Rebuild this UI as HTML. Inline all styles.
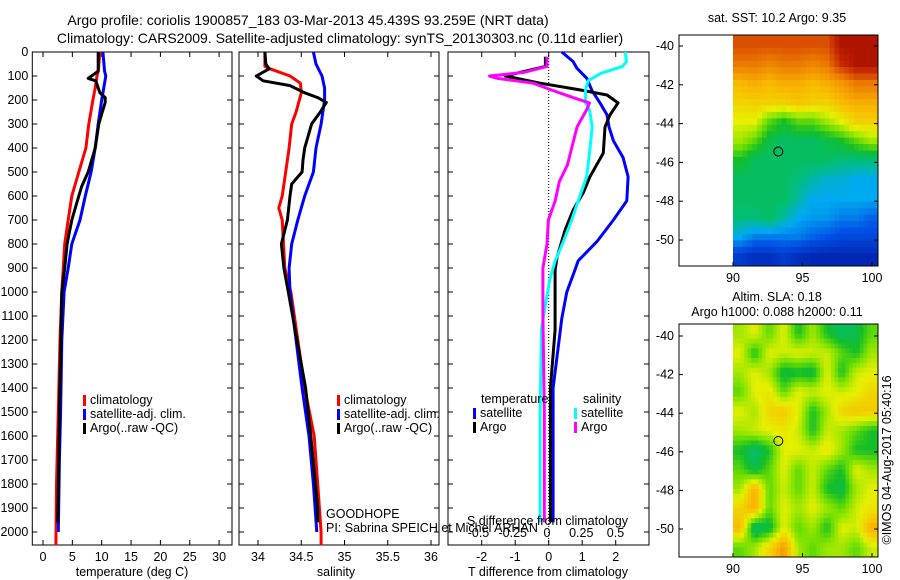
<!DOCTYPE html>
<html><head><meta charset="utf-8">
<style>
html,body{margin:0;padding:0;background:#fff;}
svg{display:block;font-family:"Liberation Sans",sans-serif;}
</style></head>
<body>
<svg id="fig" width="900" height="580" viewBox="0 0 900 580" xmlns="http://www.w3.org/2000/svg">
<text x="308" y="25" font-size="14" text-anchor="middle">Argo profile: coriolis 1900857_183 03-Mar-2013 45.439S 93.259E (NRT data)</text>
<text x="340" y="43" font-size="14" text-anchor="middle">Climatology: CARS2009. Satellite-adjusted climatology: synTS_20130303.nc (0.11d earlier)</text>
<g id="g"></g>
</svg>
<script>
// ---------- data ----------
const tDepth = [0,80,100,150,200,300,400,500,600,700,800,1000,1200,1500,1800,2055];
const tClim  = [9.7,9.4,9.2,8.9,8.5,7.8,7.3,6.1,4.9,4.3,3.7,3.2,2.9,2.6,2.3,2.2];
const tSatDepth = [0,80,100,200,300,400,500,600,700,800,900,1000,1200,1500,1700,2000];
const tSat = [10.2,10.5,10.7,10.0,9.4,8.9,8.2,7.2,6.3,4.9,4.3,3.6,3.2,3.0,2.8,2.6];
const argoDepth = [0,80,110,120,170,190,210,250,300,400,450,500,560,600,700,800,900,1000,1500,1960];
const tArgo = [9.4,9.4,7.7,9.0,9.7,10.6,10.6,10.1,9.5,8.9,8.3,7.7,6.6,6.1,4.9,4.1,3.7,3.2,2.8,2.5];
const sClimDepth = [0,60,70,100,130,170,250,300,400,500,600,650,700,900,1000,1400,1600,1800,2000,2055];
const sClim = [34.08,34.08,34.14,34.37,34.49,34.5,34.44,34.39,34.36,34.32,34.28,34.24,34.28,34.31,34.38,34.54,34.65,34.69,34.73,34.73];
const sSatDepth = [0,50,100,150,200,300,400,500,600,700,800,900,1000,1400,1600,1800,2000];
const sSat = [34.64,34.67,34.74,34.77,34.77,34.73,34.67,34.64,34.54,34.46,34.39,34.36,34.37,34.51,34.59,34.64,34.68];
const sArgoDepth = [0,50,70,100,120,140,170,190,210,250,300,400,450,500,550,600,700,800,900,1000,1400,1600,1900,1960];
const sArgo = [34.08,34.09,34.13,33.98,34.06,34.37,34.54,34.69,34.79,34.72,34.62,34.54,34.52,34.51,34.39,34.37,34.34,34.27,34.3,34.35,34.55,34.61,34.69,34.69];
const dTArgoDepth = [20,60,100,130,158,179,212,262,312,421,520,587,658,742,854,908,1000,1158,1400,1960];
const dTArgo = [-0.1,-0.1,-1.3,-0.25,0.93,1.74,2.07,1.83,1.68,1.63,1.23,1.03,0.73,0.49,0.25,0.19,0.19,0.19,0.05,0.05];
const dTSatDepth = [0,40,67,110,160,212,262,312,370,440,520,620,700,790,870,910,1000,1110,1400,1960];
const dTSat = [0.39,0.73,0.84,1.14,1.29,1.53,1.74,1.8,1.93,2.22,2.37,2.33,1.93,1.44,0.88,0.78,0.54,0.39,0.13,0.13];
const dSSatDepth = [0,40,60,90,120,160,212,240,312,420,520,600,700,790,870,950,1050,1150,1500,1960];
const dSSat = [0.57,0.58,0.55,0.39,0.30,0.28,0.28,0.31,0.33,0.31,0.29,0.24,0.18,0.12,0.06,0.02,-0.01,-0.04,-0.05,-0.05];
const dSArgoDepth = [20,60,85,100,110,130,160,190,212,240,312,400,470,540,620,700,800,900,1100,1500,1960];
const dSArgo = [0,0,-0.17,-0.42,-0.36,-0.1,0.04,0.19,0.31,0.29,0.22,0.18,0.15,0.09,0.06,0.01,0,-0.03,-0.03,-0.02,-0.02];
const depthTicks = [0,100,200,300,400,500,600,700,800,900,1000,1100,1200,1300,1400,1500,1600,1700,1800,1900,2000];
const tempTicks = [0,5,10,15,20,25,30];
const salTicks = [34,34.5,35,35.5,36];
const salTickLabels = ["34","34.5","35","35.5","36"];
const dTTicks = [-2,-1,0,1,2];
const dSTicks = [-0.5,-0.25,0,0.25,0.5];
const dSTickLabels = ["-0.5","-0.25","0","0.25","0.5"];
const latTicks = [-40,-42,-44,-46,-48,-50];
const lonTicks = [90,95,100];
const sstGrid = [
[0.85,0.85,0.85,0.85,0.85,0.85,0.85,0.95,0.95,0.95],
[0.8,0.8,0.78,0.8,0.8,0.78,0.8,0.9,0.95,0.95],
[0.7,0.72,0.7,0.72,0.72,0.7,0.72,0.75,0.8,0.8],
[0.65,0.66,0.66,0.66,0.68,0.66,0.66,0.7,0.72,0.72],
[0.6,0.6,0.5,0.45,0.5,0.5,0.55,0.6,0.66,0.66],
[0.55,0.5,0.42,0.4,0.4,0.4,0.42,0.45,0.5,0.55],
[0.45,0.4,0.4,0.4,0.4,0.4,0.4,0.38,0.38,0.38],
[0.4,0.4,0.4,0.4,0.38,0.35,0.32,0.32,0.3,0.3],
[0.4,0.4,0.4,0.4,0.35,0.3,0.3,0.3,0.3,0.3],
[0.38,0.38,0.4,0.35,0.3,0.28,0.28,0.25,0.25,0.22],
[0.3,0.25,0.25,0.25,0.25,0.22,0.2,0.18,0.18,0.18],
[0.15,0.12,0.12,0.15,0.12,0.1,0.1,0.1,0.1,0.1]];
const slaGrid = [
[0.55,0.6,0.5,0.6,0.45,0.55,0.45,0.4,0.42,0.5],
[0.6,0.45,0.6,0.58,0.6,0.58,0.58,0.5,0.45,0.55],
[0.55,0.6,0.55,0.42,0.44,0.42,0.6,0.45,0.58,0.6],
[0.5,0.6,0.62,0.5,0.6,0.58,0.6,0.58,0.6,0.65],
[0.6,0.55,0.65,0.67,0.6,0.45,0.55,0.65,0.68,0.67],
[0.55,0.58,0.6,0.62,0.58,0.45,0.58,0.55,0.5,0.45],
[0.45,0.38,0.45,0.6,0.6,0.58,0.62,0.55,0.45,0.45],
[0.5,0.42,0.5,0.6,0.5,0.58,0.5,0.45,0.6,0.55],
[0.55,0.72,0.5,0.58,0.5,0.58,0.45,0.42,0.55,0.6],
[0.65,0.72,0.5,0.6,0.55,0.6,0.55,0.5,0.58,0.62],
[0.7,0.38,0.42,0.6,0.5,0.55,0.45,0.6,0.58,0.72],
[0.5,0.55,0.65,0.75,0.55,0.5,0.55,0.55,0.5,0.58]];
const floatLon = 93.26, floatLat = -45.44;

// ---------- helpers ----------
const NS="http://www.w3.org/2000/svg";
const G=document.getElementById('g');
function mk(tag,attrs,parent){const e=document.createElementNS(NS,tag);for(const k in attrs)e.setAttribute(k,attrs[k]);(parent||G).appendChild(e);return e;}
function txt(x,y,s,anchor,parent,size){const e=mk('text',{x:x,y:y,'font-size':size||12.5,'text-anchor':anchor||'start'},parent);e.textContent=s;return e;}
const Y0=52, Y1=545;
const yD = d => Y0 + d*0.24;
function panel(x0,x1,name){
  const g=mk('g',{});
  
  
  const r=mk('rect',{x:x0,y:Y0,width:x1-x0,height:Y1-Y0,fill:'none',stroke:'#000','stroke-width':1},g);
  
  
  return g;
}
function line(g,xs,ds,xf,color,name){
  let d='';xs.forEach((v,i)=>{d+=(i?'L':'M')+xf(v).toFixed(1)+' '+yD(ds[i]).toFixed(1);});
  const p=mk('path',{d:d,fill:'none',stroke:color,'stroke-width':3,'stroke-linejoin':'round'},g);
  
  
}
function depthAxis(g,x0,x1,labels){
  depthTicks.forEach(t=>{const y=yD(t);mk('line',{x1:x0,x2:x0+5,y1:y,y2:y,stroke:'#000'},g);mk('line',{x1:x1-5,x2:x1,y1:y,y2:y,stroke:'#000'},g);
    if(labels){const e=txt(x0-4,y+4,String(t),'end',g);}});
}
function xTicks(g,ticks,labels,xf,yLab,top){
  ticks.forEach((t,i)=>{const x=xf(t);mk('line',{x1:x,x2:x,y1:Y1-5,y2:Y1,stroke:'#000'},g);if(top)mk('line',{x1:x,x2:x,y1:Y0,y2:Y0+5,stroke:'#000'},g);
    const e=txt(x,yLab,labels[i],'middle',g);});
}
function legend(g,x,y,items){
  items.forEach((it,i)=>{const r=mk('rect',{x:x,y:y+i*14-9,width:3,height:11,fill:it[0]},g);
    
    const e=txt(x+7,y+i*14,it[1],'start',g);});
}

// ---------- panel 1 ----------
{const x0=32.3,x1=232;const xf=v=>43+v*5.87;const g=panel(x0,x1,'temperature-panel');
 depthAxis(g,x0,x1,true);xTicks(g,tempTicks,tempTicks.map(String),xf,561,true);
 line(g,tClim,tDepth,xf,'#ff0000','temp-climatology-line');
 line(g,tSat,tSatDepth,xf,'#0000ff','temp-satellite-line');
 line(g,tArgo,argoDepth,xf,'#000000','temp-argo-line');
 legend(g,83,404,[['#f00','climatology'],['#00f','satellite-adj. clim.'],['#000','Argo(..raw -QC)']]);
 const e=txt(132,576,'temperature (deg C)','middle',g);}

// ---------- panel 2 ----------
{const x0=239,x1=439;const xf=v=>258+(v-34)*86.5;const g=panel(x0,x1,'salinity-panel');
 depthAxis(g,x0,x1,false);xTicks(g,salTicks,salTickLabels,xf,561,true);
 line(g,sClim,sClimDepth,xf,'#ff0000','sal-climatology-line');
 line(g,sSat,sSatDepth,xf,'#0000ff','sal-satellite-line');
 line(g,sArgo,sArgoDepth,xf,'#000000','sal-argo-line');
 legend(g,337,404,[['#f00','climatology'],['#00f','satellite-adj. clim.'],['#000','Argo(..raw -QC)']]);
 const e=txt(336,576,'salinity','middle',g);
 const a=txt(326,518,'GOODHOPE','start',g);
 const b=txt(326,532,'PI: Sabrina SPEICH et Michel ARHAN','start',g);}

// ---------- panel 3 ----------
{const x0=448,x1=649;const xT=v=>548.7+v*33.5;const xS=v=>547+v*137;const g=panel(x0,x1,'difference-panel');
 depthAxis(g,x0,x1,false);
 dTTicks.forEach(t=>{const x=xT(t);mk('line',{x1:x,x2:x,y1:Y1-5,y2:Y1,stroke:'#000'},g);mk('line',{x1:x,x2:x,y1:Y0,y2:Y0+5,stroke:'#000'},g);const e=txt(x,561,String(t),'middle',g);});
 dSTicks.forEach((t,i)=>{const e=txt(xS(t),537,dSTickLabels[i],'middle',g);});
 const z=mk('line',{x1:xT(0),x2:xT(0),y1:Y0,y2:Y1,stroke:'#000','stroke-dasharray':'1 2'},g);
 line(g,dTSat,dTSatDepth,xT,'#0000ff','t-diff-satellite-line');
 line(g,dTArgo,dTArgoDepth,xT,'#000000','t-diff-argo-line');
 line(g,dSSat,dSSatDepth,xS,'#00ffff','s-diff-satellite-line');
 line(g,dSArgo,dSArgoDepth,xS,'#ff00ff','s-diff-argo-line');
 const h1=txt(481,403,'temperature','start',g);
 const h2=txt(583,403,'salinity','start',g);
 legend(g,473,417,[['#00f','satellite'],['#000','Argo']]);
 legend(g,574,417,[['#0ff','satellite'],['#f0f','Argo']]);
 const s=txt(467,525,'S difference from climatology','start',g);
 const e=txt(548,576,'T difference from climatology','middle',g);}

// ---------- maps ----------
function cmap(v){const stops=[[0,[0,0,130]],[0.2,[0,80,230]],[0.3,[0,170,240]],[0.38,[0,190,120]],[0.45,[20,190,40]],[0.52,[120,225,0]],[0.6,[230,240,0]],[0.7,[250,185,0]],[0.8,[235,120,0]],[0.9,[200,40,0]],[1,[150,0,0]]];
 v=Math.max(0,Math.min(1,v));
 for(let i=1;i<stops.length;i++){if(v<=stops[i][0]){const a=stops[i-1],b=stops[i];const f=(v-a[0])/(b[0]-a[0]);const c=a[1].map((q,k)=>Math.round(q+(b[1][k]-q)*f));return 'rgb('+c.join(',')+')';}}return 'rgb(150,0,0)';}
function sample(grid,r,c){ // bilinear in cell-centre space
 const R=grid.length,C=grid[0].length;r=Math.max(0,Math.min(R-1,r));c=Math.max(0,Math.min(C-1,c));
 const r0=Math.floor(r),c0=Math.floor(c),r1=Math.min(R-1,r0+1),c1=Math.min(C-1,c0+1),fr=r-r0,fc=c-c0;
 return grid[r0][c0]*(1-fr)*(1-fc)+grid[r0][c1]*(1-fr)*fc+grid[r1][c0]*fr*(1-fc)+grid[r1][c1]*fr*fc;}
function map(top,bottom,lat40y,lat50y,grid,name,sub,title1,title2,t1y,t2y){
 const ax0=679,ax1=878,lx=v=>733+(v-90)*13.9;const ly=v=>lat40y+(-40-v)*(lat50y-lat40y)/10;
 const g=mk('g',{});
 const R=grid.length,C=grid[0].length;const cw=(ax1-733)/C,ch=(bottom-top)/R;
 for(let r=0;r<R*sub;r++)for(let c=0;c<C*sub;c++){
   const v=sample(grid,(r+0.5)/sub-0.5,(c+0.5)/sub-0.5);
   const rc=mk('rect',{x:(733+c*cw/sub).toFixed(2),y:(top+r*ch/sub).toFixed(2),width:(cw/sub+0.4).toFixed(2),height:(ch/sub+0.4).toFixed(2),fill:cmap(v)},g);
   
   
 }
 const fr=mk('rect',{x:ax0,y:top,width:ax1-ax0,height:bottom-top,fill:'none',stroke:'#000'},g);
 latTicks.forEach(t=>{const y=ly(t);mk('line',{x1:ax0,x2:ax0+4,y1:y,y2:y,stroke:'#000'},g);mk('line',{x1:ax1-4,x2:ax1,y1:y,y2:y,stroke:'#000'},g);const e=txt(ax0-5,y+4,String(t),'end',g);});
 lonTicks.forEach(t=>{const x=lx(t);mk('line',{x1:x,x2:x,y1:bottom-4,y2:bottom,stroke:'#000'},g);const e=txt(x,bottom+16,String(t),'middle',g);});
 const c=mk('ellipse',{cx:lx(floatLon),cy:ly(floatLat),rx:4.5,ry:4.5,fill:'none',stroke:'#000','stroke-width':1},g);
 if(title1){const e=txt(777,t1y,title1,'middle',g);}
 if(title2){const e=txt(777,t2y,title2,'middle',g);}
}
map(35,266,46,240,sstGrid,'sst-map',3,'sat. SST: 10.2 Argo: 9.35',null,22,0);
map(324,557,336,529,slaGrid,'sla-map',4,'Altim. SLA: 0.18','Argo h1000: 0.088 h2000: 0.11',301,316);
const cr=txt(0,0,'©IMOS 04-Aug-2017 05:40:16','middle');cr.setAttribute('transform','translate(891,460) rotate(-90)');


</script>
</body></html>
